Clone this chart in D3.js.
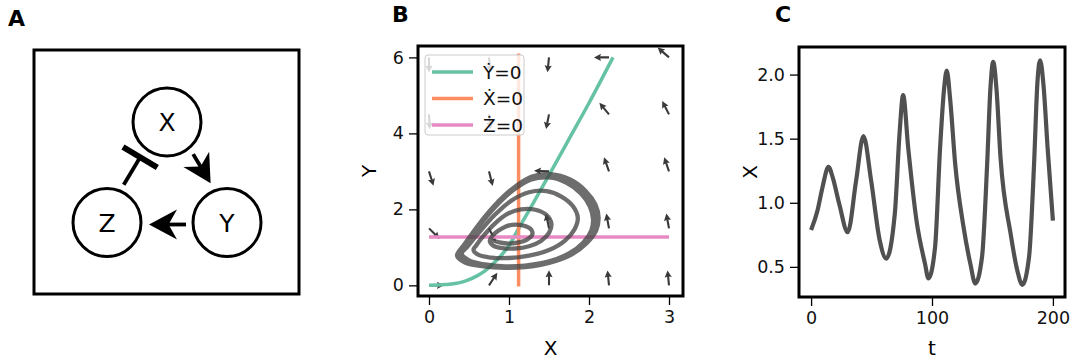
<!DOCTYPE html>
<html>
<head>
<meta charset="utf-8">
<script src="https://cdnjs.cloudflare.com/ajax/libs/d3/7.8.5/d3.min.js"></script>
<style>
  body { margin: 0; background: #fff; }
  svg text { font-family: "DejaVu Sans", sans-serif; }
</style>
</head>
<body>
<div id="chart"></div>
<script>
// ---- data ----
const panelLetters = ["A", "B", "C"];

// network diagram (panel A)
const nodeNames = ["X", "Y", "Z"];
const edgeFrom = ["X", "Y", "Z"];
const edgeTo = ["Y", "Z", "X"];
const edgeType = ["act", "act", "rep"];

// phase plane (panel B)
const gridX = [0, 0.75, 1.5, 2.25, 3];
const gridY = [0, 1.5, 3, 4.5, 6];
// arrow directions, one row per gridY value (u to the right, v up)
const quiverU = [
  [1, 0.55, 0, -0.1, -0.1],
  [0.7, 0.45, -0.2, -0.18, -0.18],
  [0.3, 0.25, -1, -0.33, -0.32],
  [0.05, 0.1, -0.2, -0.64, -0.45],
  [0, 0.1, -0.1, -1, -0.75]
];
const quiverV = [
  [0, 0.83, 1, 1, 1],
  [-0.7, -0.9, 0.98, 0.98, 0.98],
  [-0.95, -0.97, 0.05, 0.94, 0.95],
  [-1, -1, -1, 0.77, 0.89],
  [-1, -1, -1, 0, 0.65]
];
const yNullX = [0, 0.2, 0.4, 0.5, 0.6, 0.7, 0.8, 0.9, 1.0, 1.1, 1.25, 1.5, 1.75, 2.0, 2.3];
const yNullY = [0, 0.02, 0.08, 0.15, 0.25, 0.38, 0.57, 0.78, 1.05, 1.42, 1.97, 2.9, 3.85, 4.8, 6.0];
const xNullX = [1.12, 1.12];
const xNullY = [-0.03, 6.1];
const zNullX = [0, 3];
const zNullY = [1.27, 1.27];
const legendLabels = ["\u1E8E=0", "\u1E8A=0", "\u017B=0"];
const nullColors = ["#66c2a5", "#fc8d62", "#e78ac3"];

const trajX = [
  0.78, 0.88, 1.0, 1.12, 1.22, 1.29, 1.28, 1.2, 1.08, 0.96, 0.86, 0.79,
  0.76, 0.8, 0.92, 1.08, 1.25, 1.4, 1.5, 1.53, 1.47, 1.33, 1.15, 0.98, 0.82, 0.68, 0.59,
  0.556, 0.62, 0.78, 1.0, 1.25, 1.5, 1.7, 1.82, 1.86, 1.8, 1.66, 1.47, 1.25, 1.03, 0.82, 0.63, 0.48,
  0.41, 0.5, 0.7, 0.95, 1.2, 1.5, 1.75, 1.93, 2.03, 2.05, 2.01, 1.9, 1.72, 1.5, 1.27, 1.05, 0.83, 0.62, 0.46,
  0.36, 0.46, 0.68, 0.95, 1.2, 1.5, 1.77, 1.96, 2.07, 2.1, 2.06, 1.94, 1.75, 1.5, 1.26, 1.04, 0.82, 0.61, 0.45,
  0.35, 0.45, 0.68, 0.95, 1.2, 1.5, 1.78, 1.97, 2.09, 2.12, 2.08, 1.96, 1.77, 1.52, 1.28, 1.06, 0.86
];
const trajY = [
  1.2, 1.13, 1.1, 1.13, 1.2, 1.33, 1.46, 1.56, 1.6, 1.55, 1.43, 1.3,
  1.17, 1.05, 0.98, 0.97, 1.03, 1.17, 1.38, 1.62, 1.85, 1.99, 2.0, 1.88, 1.62, 1.3, 1.05,
  0.93, 0.8, 0.73, 0.72, 0.78, 0.93, 1.18, 1.48, 1.78, 2.08, 2.33, 2.48, 2.45, 2.23, 1.85, 1.4, 1.02,
  0.83, 0.66, 0.55, 0.5, 0.52, 0.63, 0.84, 1.13, 1.45, 1.75, 2.08, 2.42, 2.7, 2.84, 2.78, 2.5, 2.07, 1.55, 1.1,
  0.8, 0.62, 0.52, 0.47, 0.49, 0.6, 0.82, 1.12, 1.45, 1.77, 2.12, 2.47, 2.76, 2.9, 2.83, 2.54, 2.1, 1.57, 1.1,
  0.78, 0.6, 0.5, 0.46, 0.48, 0.59, 0.81, 1.11, 1.45, 1.78, 2.13, 2.48, 2.78, 2.93, 2.86, 2.57, 2.2
];

// time course (panel C)
const tVals = [0, 5.3, 9.4, 14.4, 17.8, 23.3, 30.3, 37.2, 43.3, 49.7, 56.7, 62.2, 69.2, 73.3, 76.1, 80.3, 87.2, 94.2, 97,
  102.5, 106.7, 110, 112.2, 115, 119.2, 126.1, 131.7, 135.8, 141.4, 145.6, 148.3, 150.6, 153.3, 156.7, 165, 170.6, 174.7,
  180.3, 184.4, 187.2, 189.4, 192.2, 195.6, 200];
const xVals = [0.788, 0.94, 1.12, 1.28, 1.2, 0.99, 0.77, 1.17, 1.52, 1.17, 0.71, 0.565, 0.91, 1.56, 1.84, 1.43, 0.86, 0.525, 0.41,
  0.65, 1.43, 1.89, 2.03, 1.81, 1.30, 0.81, 0.525, 0.37, 0.58, 1.30, 1.89, 2.10, 1.89, 1.35, 0.76, 0.47, 0.36,
  0.58, 1.30, 1.94, 2.11, 1.92, 1.43, 0.86];

const xTicksB = [0, 1, 2, 3];
const yTicksB = [0, 2, 4, 6];
const xTicksC = [0, 100, 200];
const yTicksC = [0.5, 1.0, 1.5, 2.0];

// ---- layout ----
const W = 1075, H = 362;
const svg = d3.select("#chart").append("svg").attr("width", W).attr("height", H);

const boxA = {x0: 34, y0: 50, x1: 299, y1: 294};
const boxB = {x0: 418, y0: 46, x1: 683, y1: 296};
const boxC = {x0: 799, y0: 47, x1: 1065, y1: 297};

const tickFont = 17.5, labelFont = 20;

// panel letters
const letterPos = [[8, 26], [392, 22], [775, 22]];
svg.selectAll("text.letter").data(panelLetters).join("text")
  .attr("class", "letter")
  .attr("x", (d, i) => letterPos[i][0]).attr("y", (d, i) => letterPos[i][1])
  .attr("font-size", 22).attr("font-weight", "bold").text(d => d);

// ---- panel A ----
const gA = svg.append("g");
gA.append("rect").attr("x", boxA.x0).attr("y", boxA.y0)
  .attr("width", boxA.x1 - boxA.x0).attr("height", boxA.y1 - boxA.y0)
  .attr("fill", "none").attr("stroke", "#000").attr("stroke-width", 3);

const nodePos = {X: [167, 122], Y: [227, 222.5], Z: [107, 222.5]};
const R = 34;
const edgeShift = [6, 2, 5];

edgeFrom.forEach((f, i) => {
  const a = nodePos[f], b = nodePos[edgeTo[i]];
  const len = Math.hypot(b[0] - a[0], b[1] - a[1]);
  const d = [(b[0] - a[0]) / len, (b[1] - a[1]) / len];
  const n = [d[1], -d[0]];
  const off = edgeShift[i];
  const s = [a[0] + d[0] * (R + 7) + n[0] * off, a[1] + d[1] * (R + 7) + n[1] * off];
  if (edgeType[i] === "act") {
    const e = [b[0] - d[0] * (R + 8) + n[0] * off, b[1] - d[1] * (R + 8) + n[1] * off];
    const L = 28, Wd = 30;
    const notch = [e[0] - d[0] * L * 0.7, e[1] - d[1] * L * 0.7];
    gA.append("line").attr("x1", s[0]).attr("y1", s[1]).attr("x2", notch[0] + d[0] * 2).attr("y2", notch[1] + d[1] * 2)
      .attr("stroke", "#000").attr("stroke-width", 3.8);
    const base = [e[0] - d[0] * L, e[1] - d[1] * L];
    const p = [-d[1], d[0]];
    const pts = [e, [base[0] + p[0] * Wd / 2, base[1] + p[1] * Wd / 2], notch, [base[0] - p[0] * Wd / 2, base[1] - p[1] * Wd / 2]];
    gA.append("path").attr("d", "M" + pts.map(q => q.join(",")).join("L") + "Z").attr("fill", "#000");
  } else {
    const c = [b[0] - d[0] * (R + 10) + n[0] * off, b[1] - d[1] * (R + 10) + n[1] * off];
    gA.append("line").attr("x1", s[0]).attr("y1", s[1]).attr("x2", c[0]).attr("y2", c[1])
      .attr("stroke", "#000").attr("stroke-width", 3.8);
    const p = [-d[1], d[0]];
    gA.append("line").attr("x1", c[0] + p[0] * 20).attr("y1", c[1] + p[1] * 20)
      .attr("x2", c[0] - p[0] * 20).attr("y2", c[1] - p[1] * 20)
      .attr("stroke", "#000").attr("stroke-width", 6);
  }
});

gA.selectAll("circle").data(nodeNames).join("circle")
  .attr("cx", d => nodePos[d][0]).attr("cy", d => nodePos[d][1]).attr("r", R)
  .attr("fill", "#fff").attr("stroke", "#000").attr("stroke-width", 3);
gA.selectAll("text.node").data(nodeNames).join("text").attr("class", "node")
  .attr("x", d => nodePos[d][0]).attr("y", d => nodePos[d][1]).attr("dy", "0.36em")
  .attr("text-anchor", "middle").attr("font-size", 25).text(d => d);

// ---- axes helper ----
function drawAxes(g, box, x, y, xt, yt, xf, yf, xl, yl) {
  const ax = g.append("g").attr("transform", `translate(0,${box.y1})`)
    .call(d3.axisBottom(x).tickValues(xt).tickFormat(xf).tickSize(9).tickPadding(6));
  const ay = g.append("g").attr("transform", `translate(${box.x0},0)`)
    .call(d3.axisLeft(y).tickValues(yt).tickFormat(yf).tickSize(9).tickPadding(5));
  [ax, ay].forEach(a => {
    a.select(".domain").remove();
    a.selectAll(".tick line").attr("stroke", "#000").attr("stroke-width", 1.3);
    a.selectAll(".tick text").attr("font-size", tickFont).attr("fill", "#111")
      .attr("font-family", '"DejaVu Sans", sans-serif');
  });
  g.append("rect").attr("x", box.x0).attr("y", box.y0)
    .attr("width", box.x1 - box.x0).attr("height", box.y1 - box.y0)
    .attr("fill", "none").attr("stroke", "#000").attr("stroke-width", 3);
  g.append("text").attr("x", (box.x0 + box.x1) / 2).attr("y", 355)
    .attr("text-anchor", "middle").attr("font-size", labelFont).text(xl);
  const cy = (box.y0 + box.y1) / 2;
  g.append("text").attr("transform", `translate(${box.x0 - 42},${cy}) rotate(-90)`)
    .attr("text-anchor", "middle").attr("font-size", labelFont).text(yl);
}

// ---- panel B ----
const gB = svg.append("g");
const xB = d3.scaleLinear().domain([-0.1375, 3.175]).range([boxB.x0, boxB.x1]);
const yB = d3.scaleLinear().domain([-0.28, 6.3]).range([boxB.y1, boxB.y0]);

// quiver arrows
const qLen = 15, hl = 7, hal = 6.2, hw = 3.6, sw = 1.05;
const qShape = [[0, -sw], [qLen - hal, -sw], [qLen - hl, -hw], [qLen, 0], [qLen - hl, hw], [qLen - hal, sw], [0, sw]];
const qData = [];
gridY.forEach((gy, r) => gridX.forEach((gx, c) => qData.push({gx, gy, u: quiverU[r][c], v: quiverV[r][c]})));
gB.selectAll("path.q").data(qData).join("path").attr("class", "q")
  .attr("transform", d => `translate(${xB(d.gx)},${yB(d.gy)}) rotate(${Math.atan2(-d.v, d.u) * 180 / Math.PI})`)
  .attr("d", "M" + qShape.map(p => p.join(",")).join("L") + "Z")
  .attr("fill", "#3a3a3a");

const lineB = d3.line().x(d => xB(d[0])).y(d => yB(d[1]));
gB.append("path").datum(yNullX.map((v, i) => [v, yNullY[i]]))
  .attr("d", lineB.curve(d3.curveMonotoneX)).attr("fill", "none")
  .attr("stroke", nullColors[0]).attr("stroke-width", 3.5);
gB.append("path").datum(xNullX.map((v, i) => [v, xNullY[i]]))
  .attr("d", d3.line().x(d => xB(d[0])).y(d => yB(d[1]))).attr("fill", "none")
  .attr("stroke", nullColors[1]).attr("stroke-width", 3.5);
gB.append("path").datum(zNullX.map((v, i) => [v, zNullY[i]]))
  .attr("d", d3.line().x(d => xB(d[0])).y(d => yB(d[1]))).attr("fill", "none")
  .attr("stroke", nullColors[2]).attr("stroke-width", 3.5);

gB.append("path").datum(trajX.map((v, i) => [v, trajY[i]]))
  .attr("d", d3.line().x(d => xB(d[0])).y(d => yB(d[1])).curve(d3.curveCatmullRom.alpha(0.5)))
  .attr("fill", "none").attr("stroke", "#444").attr("stroke-opacity", 0.78)
  .attr("stroke-width", 4.3).attr("stroke-linejoin", "round");

// legend
const lg = gB.append("g");
lg.append("rect").attr("x", 425).attr("y", 55).attr("width", 99).attr("height", 80).attr("rx", 3)
  .attr("fill", "#fff").attr("fill-opacity", 0.8).attr("stroke", "#ccc").attr("stroke-width", 1);
legendLabels.forEach((lab, i) => {
  const ly = 72 + i * 26.5;
  lg.append("line").attr("x1", 432).attr("x2", 473).attr("y1", ly).attr("y2", ly)
    .attr("stroke", nullColors[i]).attr("stroke-width", 3.5);
  lg.append("text").attr("x", 483).attr("y", ly + 6.5).attr("font-size", 18.5).attr("fill", "#111").text(lab);
});

drawAxes(gB, boxB, xB, yB, xTicksB, yTicksB, d3.format("d"), d3.format("d"), "X", "Y");

// ---- panel C ----
const gC = svg.append("g");
const xC = d3.scaleLinear().domain([-10, 210]).range([boxC.x0, boxC.x1]);
const yC = d3.scaleLinear().domain([0.265, 2.215]).range([boxC.y1, boxC.y0]);
gC.append("path").datum(tVals.map((t, i) => [t, xVals[i]]))
  .attr("d", d3.line().x(d => xC(d[0])).y(d => yC(d[1])).curve(d3.curveMonotoneX))
  .attr("fill", "none").attr("stroke", "#505050").attr("stroke-width", 4.2).attr("stroke-linejoin", "round");
drawAxes(gC, boxC, xC, yC, xTicksC, yTicksC, d3.format("d"), d3.format(".1f"), "t", "X");
</script>
</body>
</html>
